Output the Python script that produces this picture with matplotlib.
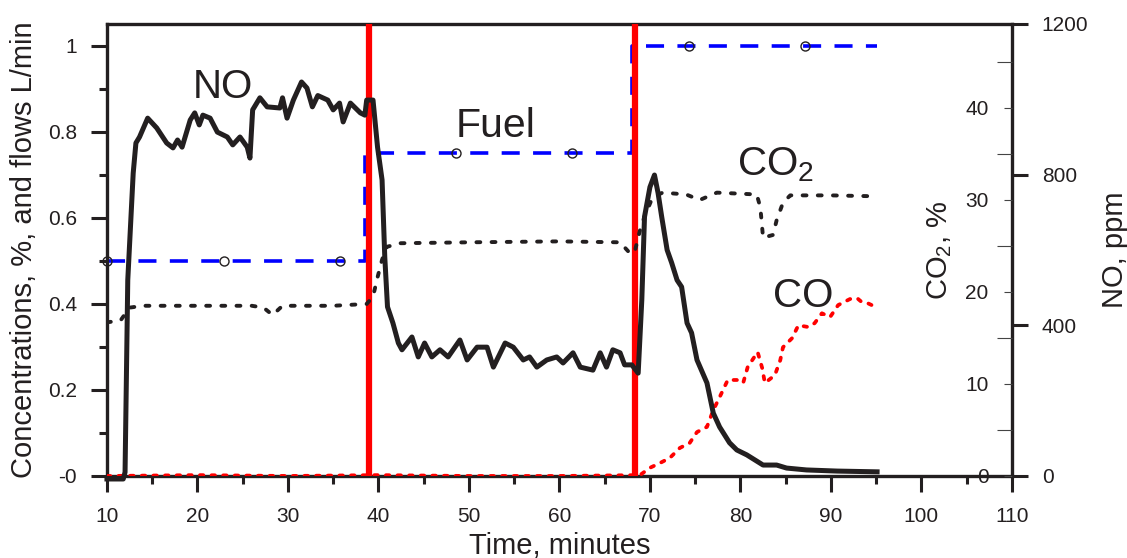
import matplotlib
matplotlib.use("Agg")
import matplotlib.pyplot as plt
from matplotlib.ticker import MultipleLocator, FixedLocator

plt.rcParams['font.family'] = ['Liberation Sans', 'DejaVu Sans']
plt.rcParams['mathtext.default'] = 'regular'

INK = "#231f20"

# NO, ppm (right outer axis)
no_t = [10, 11.8, 12.0, 12.3, 12.9, 13.2, 13.6, 14.5, 15.5, 16.6, 17.3, 17.8, 18.3, 19.2,
        19.7, 20.2, 20.6, 21.4, 22.2, 23.3, 23.9, 24.7, 25.5, 25.8, 26.1, 26.9, 27.7, 29.1,
        29.4, 29.9, 30.6, 31.5, 32.1, 32.7, 33.3, 34.4, 35.0, 35.7, 36.1, 36.9, 38.0, 38.5,
        38.7, 39.4, 39.9, 40.4, 40.7, 41.0, 41.6, 42.2, 42.6, 43.7, 44.4, 45.1, 45.9, 46.8,
        47.7, 49.0, 49.8, 50.9, 52.0, 52.7, 54.0, 54.9, 56.0, 56.7, 57.5, 58.6, 59.7, 60.4,
        61.5, 62.3, 63.7, 64.5, 65.2, 65.9, 66.7, 67.2, 68.0, 68.7, 69.1, 69.4, 70.0, 70.5,
        70.9, 71.3, 71.9, 72.4, 73.0, 73.5, 74.1, 74.6, 75.2, 76.3, 77.0, 77.7, 78.8, 79.6,
        80.7, 82.5, 84.0, 85.1, 87.3, 90.7, 95.1]
no_ppm = [-8, -8, 10, 520, 804, 884, 900, 950, 924, 884, 871, 892, 873, 945,
          964, 932, 958, 950, 913, 900, 879, 900, 873, 844, 972, 1004, 980, 977,
          1004, 950, 998, 1046, 1030, 980, 1010, 998, 972, 990, 940, 990, 964, 958,
          998, 998, 873, 786, 581, 449, 406, 353, 335, 369, 316, 353, 316, 335,
          316, 361, 308, 342, 342, 289, 353, 342, 308, 316, 289, 308, 316, 300,
          327, 289, 281, 327, 289, 335, 327, 295, 295, 273, 467, 688, 767, 799,
          751, 688, 600, 566, 520, 502, 406, 380, 308, 247, 167, 130, 88, 69,
          56, 29, 29, 21, 16, 13, 11]

# CO2, % (right inner axis)
co2_t = [10, 11.5, 12.5, 14, 20, 26, 27.3, 28.3, 29.4, 35, 38.7, 39.4, 39.9, 40.4, 40.9,
         42.4, 50, 60, 66.7, 67.8, 68.3, 68.9, 69.4, 70.3, 71.4, 74, 75.5, 77.4, 81.8,
         82.2, 82.5, 83.6, 84.0, 84.7, 85.5, 90, 95.1]
co2_pct = [16.7, 16.9, 18.3, 18.5, 18.5, 18.5, 18.3, 17.5, 18.5, 18.5, 18.7, 19.5, 21.6,
           23.5, 24.9, 25.3, 25.4, 25.5, 25.4, 24.2, 24.3, 26.7, 28.2, 30.3, 30.8, 30.6,
           30.0, 30.8, 30.6, 29.2, 25.9, 26.2, 27.8, 29.7, 30.5, 30.5, 30.4]

# CO, % (left axis)
co_t = [10, 20, 30, 40, 50, 60, 68.9, 70.0, 71.1, 72.2, 73.3, 74.4, 75.2, 76.3, 77.0,
        77.7, 78.6, 79.6, 80.3, 80.8, 81.9, 82.4, 82.7, 83.8, 84.4, 84.7, 85.7, 86.4,
        87.5, 88.2, 89.0, 89.9, 90.8, 92.1, 92.9, 93.4, 94.1, 95.0]
co_pct = [0, 0.002, 0, 0.002, 0, 0, 0.002, 0.019, 0.030, 0.042, 0.065, 0.077, 0.102,
          0.114, 0.153, 0.183, 0.223, 0.223, 0.216, 0.253, 0.288, 0.251, 0.216, 0.234,
          0.269, 0.299, 0.320, 0.350, 0.346, 0.355, 0.378, 0.369, 0.397, 0.411, 0.413,
          0.404, 0.401, 0.392]

# fuel flow, L/min
fuel_t = [10, 38.5, 38.5, 68.0, 68.0, 95.1]
fuel_flow = [0.5, 0.5, 0.75, 0.75, 1.0, 1.0]
fuel_mark_t = [10, 22.9, 35.7, 48.6, 61.4, 74.3, 87.1]
fuel_mark_flow = [0.5, 0.5, 0.5, 0.75, 0.75, 1.0, 1.0]

switch_t = [39.0, 68.3]

left_ticks = [0, 0.2, 0.4, 0.6, 0.8, 1.0]
left_ticklabels = ["-0", "0.2", "0.4", "0.6", "0.8", "1"]

fig = plt.figure(figsize=(11.27, 5.58), dpi=100)
ax = fig.add_axes([0.0949, 0.147, 0.803, 0.810])
ax_co2 = ax.twinx()
ax_no = ax.twinx()

# main axis: fuel, CO, switch lines
ax.plot(fuel_t, fuel_flow, color="#0000ff", lw=2.6, dashes=(5.0, 3.7), zorder=2)
ax.plot(fuel_mark_t, fuel_mark_flow, ls="none", marker="o", ms=6.5, mfc="none",
        mec=INK, mew=1.0, zorder=3, clip_on=False)
ax.plot(co_t, co_pct, color="#ff0000", lw=2.7, dashes=(0.9, 2.2), dash_capstyle="round",
        zorder=3)
for t in switch_t:
    ax.axvline(t, color="#ff0000", lw=4.5, zorder=4)

ax.set_xlim(10, 110)
ax.set_ylim(0, 1.05)
ax.xaxis.set_major_locator(MultipleLocator(10))
ax.xaxis.set_minor_locator(MultipleLocator(5))
ax.yaxis.set_major_locator(FixedLocator(left_ticks))
ax.set_yticklabels(left_ticklabels)
ax.yaxis.set_minor_locator(FixedLocator([0.1, 0.3, 0.5, 0.7, 0.9]))
ax.tick_params(axis="x", which="major", direction="out", length=11.5, width=2.2,
               labelsize=15, pad=11, color=INK, labelcolor=INK)
ax.tick_params(axis="x", which="minor", direction="out", length=6, width=2.2, color=INK)
ax.tick_params(axis="y", which="major", direction="out", length=11.5, width=2.2,
               labelsize=15, pad=10, color=INK, labelcolor=INK)
ax.tick_params(axis="y", which="minor", direction="out", length=6, width=2.2, color=INK)
for s in ax.spines.values():
    s.set_linewidth(2.4)
    s.set_color(INK)
ax.set_xlabel("Time, minutes", fontsize=21, labelpad=4, color=INK)
ax.set_ylabel("Concentrations, %, and flows L/min", fontsize=21, labelpad=7, color=INK)

# CO2 axis: ticks and labels inside the right spine
ax_co2.plot(co2_t, co2_pct, color=INK, lw=2.8, dashes=(1.0, 2.9), dash_capstyle="round")
ax_co2.set_ylim(0, 49.13)
ax_co2.yaxis.set_ticks_position("left")
ax_co2.yaxis.set_label_position("left")
ax_co2.spines["left"].set_position(("axes", 1.0))
for s in ax_co2.spines.values():
    s.set_visible(False)
ax_co2.yaxis.set_major_locator(MultipleLocator(10))
ax_co2.yaxis.set_minor_locator(FixedLocator([5, 15, 25, 35, 45]))
ax_co2.tick_params(axis="y", which="major", direction="out", length=5.8, width=0.8,
                   labelsize=15, pad=11, color="#444444", labelcolor=INK)
ax_co2.tick_params(axis="y", which="minor", direction="out", length=10.8, width=0.8,
                   color="#444444")
ax_co2.set_ylabel("CO$_2$, %", fontsize=21, labelpad=8, color=INK)

# NO axis: outside the right spine
ax_no.plot(no_t, no_ppm, color=INK, lw=3.6, solid_joinstyle="round", clip_on=False)
ax_no.set_ylim(0, 1200)
for s in ax_no.spines.values():
    s.set_visible(False)
ax_no.yaxis.set_major_locator(MultipleLocator(400))
ax_no.tick_params(axis="y", which="major", direction="out", length=11.5, width=2.2,
                  labelsize=15, pad=10, color=INK, labelcolor=INK)
ax_no.set_ylabel("NO, ppm", fontsize=21, labelpad=9, color=INK)

# series names
ax.text(19.5, 0.877, "NO", fontsize=29, color=INK, ha="left", va="baseline")
ax.text(48.5, 0.787, "Fuel", fontsize=29.5, color=INK, ha="left", va="baseline")
ax.text(79.6, 0.698, "CO$_2$", fontsize=29, color=INK, ha="left", va="baseline")
ax.text(83.6, 0.392, "CO", fontsize=29, color=INK, ha="left", va="baseline")

fig.savefig("out.png", dpi=100)
